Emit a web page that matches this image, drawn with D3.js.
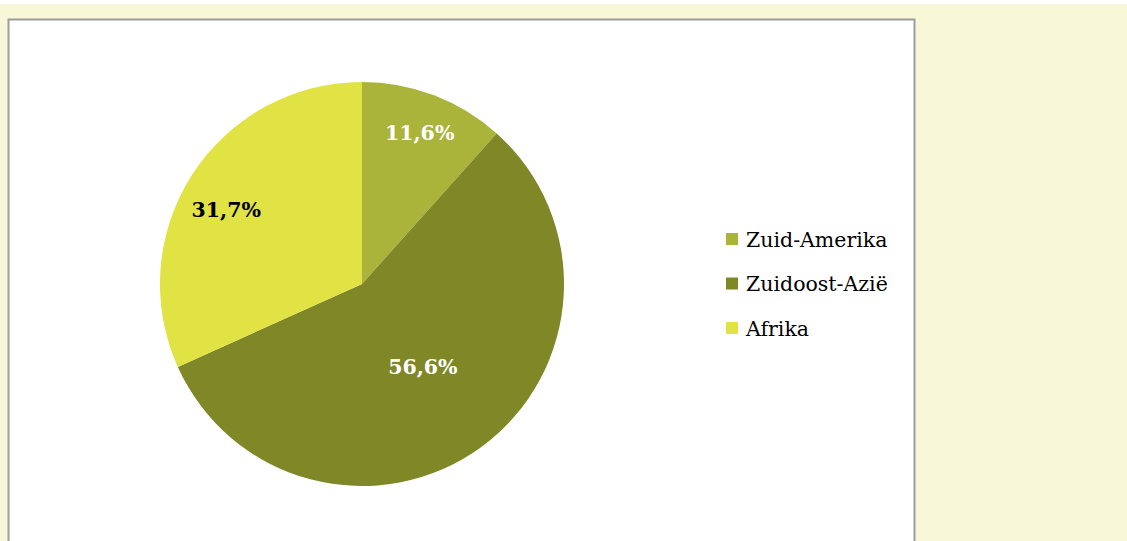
<!DOCTYPE html>
<html>
<head>
<meta charset="utf-8">
<script src="https://cdn.jsdelivr.net/npm/d3@7"></script>
<style>
  body { margin: 0; background: #ffffff; }
  svg { display: block; }
</style>
</head>
<body>
<script>
// data
var regions = ["Zuid-Amerika", "Zuidoost-Azië", "Afrika"];
var shares = [11.6, 56.6, 31.7];
var labels = ["11,6%", "56,6%", "31,7%"];
var colors = ["#aab33a", "#7f8727", "#e1e344"];

var width = 1127, height = 541;

const svg = d3.select("body")
    .append("svg")
    .attr("width", width)
    .attr("height", height);

// page background + chart area
svg.append("rect").attr("x", 0).attr("y", 4).attr("width", width).attr("height", height - 4).attr("fill", "#f8f8d9");
svg.append("rect")
    .attr("x", 8.5).attr("y", 19.5)
    .attr("width", 906).attr("height", 540)
    .attr("fill", "#ffffff")
    .attr("stroke", "#9c9c9c")
    .attr("stroke-width", 2);

var cx = 362, cy = 284, r = 202;

var color = d3.scaleOrdinal().domain(regions).range(colors);

var pie = d3.pie().sort(null).value(function(d, i) { return shares[i]; });
var arcs = pie(regions);

var arc = d3.arc().innerRadius(0).outerRadius(r);

const g = svg.append("g").attr("transform", `translate(${cx}, ${cy})`);

g.selectAll("path.slice")
    .data(arcs)
    .enter()
    .append("path")
    .attr("class", "slice")
    .attr("d", arc)
    .attr("fill", function(d) { return color(d.data); });

// labels: big slice gets its label nearer the centre, left-side ones sit a bit lower
g.selectAll("text.lbl")
    .data(arcs)
    .enter()
    .append("text")
    .attr("class", "lbl")
    .attr("transform", function(d) {
        var k = (d.endAngle - d.startAngle) > Math.PI ? 0.51 : 0.8;
        var a = d3.arc().innerRadius(r * k).outerRadius(r * k);
        var c = a.centroid(d);
        if (c[0] < -50) c[1] += 14;
        return "translate(" + c + ")";
    })
    .attr("text-anchor", "middle")
    .attr("dy", "0.35em")
    .style("font-family", "'DejaVu Serif', serif")
    .style("font-weight", "bold")
    .style("font-size", "20.5px")
    .style("fill", function(d, i) { return regions[i] === "Afrika" ? "#000000" : "#ffffff"; })
    .text(function(d, i) { return labels[i]; });

// legend
var legend = svg.append("g").attr("transform", "translate(726, 239)");
var rows = legend.selectAll("g.row")
    .data(regions)
    .enter()
    .append("g")
    .attr("class", "row")
    .attr("transform", function(d, i) { return "translate(0," + (i * 44.5) + ")"; });

rows.append("rect")
    .attr("x", 0).attr("y", -6)
    .attr("width", 12).attr("height", 12)
    .attr("fill", function(d) { return color(d); });

rows.append("text")
    .attr("x", 20)
    .attr("dy", "0.38em")
    .style("font-family", "'DejaVu Serif', serif")
    .style("font-size", "20.5px")
    .style("fill", "#000000")
    .text(function(d) { return d; });
</script>
</body>
</html>
